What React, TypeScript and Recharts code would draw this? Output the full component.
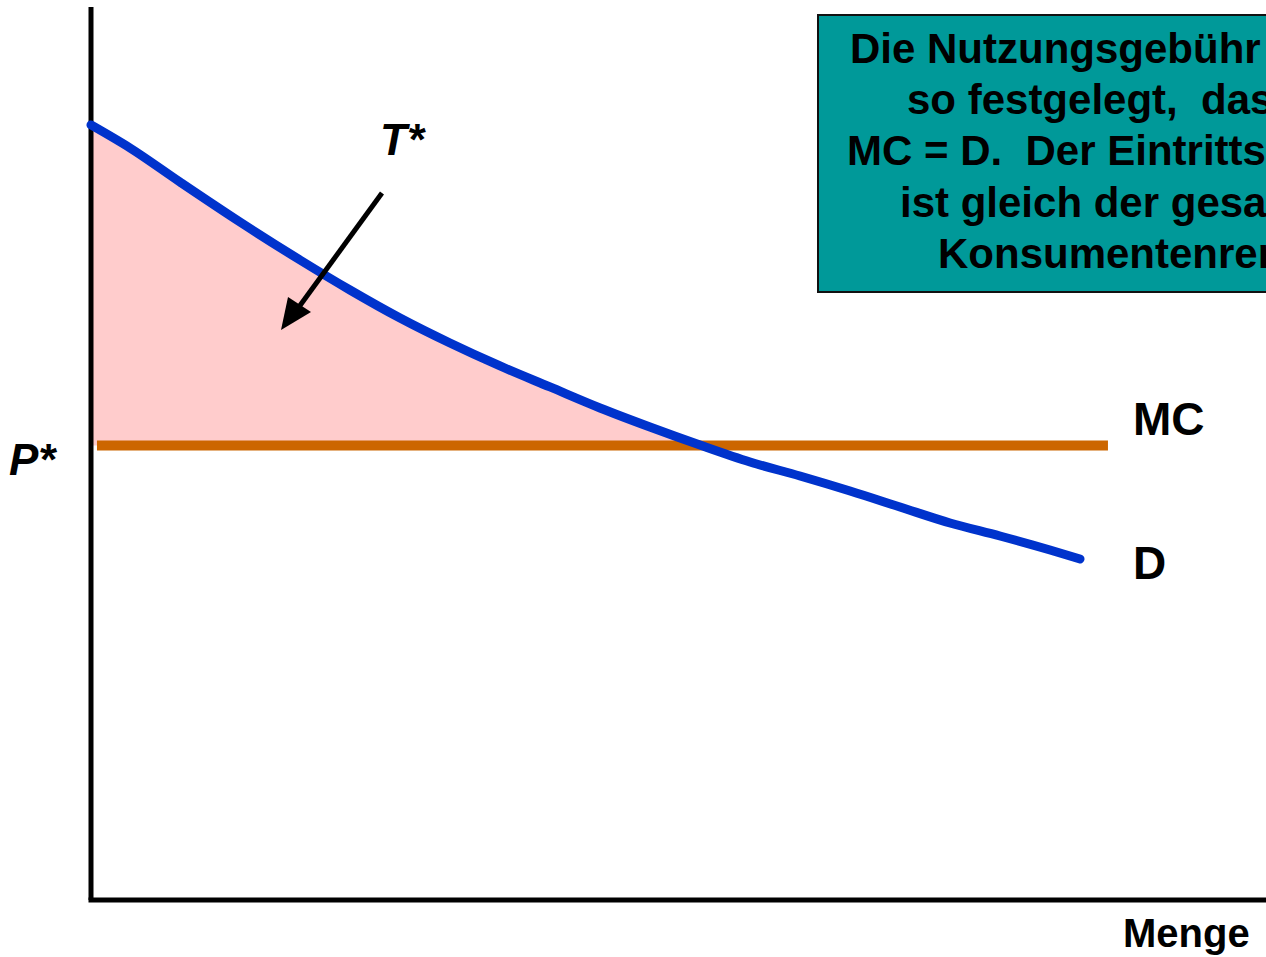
import { ComposedChart, Line, Area, XAxis, YAxis, ReferenceLine } from 'recharts'

// demand curve (quantity, price)
const demandQ = [0, 3.32, 7.57, 12.68, 17.79, 22.04, 26.3, 30.55, 34.81, 39.06, 43.32, 47.57, 51.83, 56.09, 60.34, 64.6, 68.85, 73.11, 77.36, 81.62, 84.17]
const demandP = [86.79, 84.21, 80.4, 75.92, 71.67, 68.31, 65.17, 62.37, 59.8, 57.45, 55.1, 52.97, 50.95, 49.05, 47.48, 45.8, 44.01, 42.22, 40.76, 39.19, 38.19]

// marginal cost line
const mcPrice = 50.9
const mcStart = 0.51
const mcEnd = 86.55

const boxLines = [
  'Die Nutzungsgebühr wird',
  'so festgelegt,  dass',
  'MC = D.  Der Eintrittspreis',
  'ist gleich der gesamten',
  'Konsumentenrente.',
]
const boxLineX = [850, 907, 847, 900, 938]

const W = 1266
const H = 957
const font = '"Liberation Sans", Arial, Helvetica, sans-serif'

const demand = demandQ.map((q, i) => ({ q, d: demandP[i] }))
const surplus = demand
  .filter((pt) => pt.d >= mcPrice)
  .map((pt) => ({ q: pt.q, band: [mcPrice, pt.d] }))
const mc = [
  { q: mcStart, mc: mcPrice },
  { q: mcEnd, mc: mcPrice },
]

export default function App() {
  return (
    <div style={{ position: 'absolute', left: 0, top: 0, width: W, height: H, background: '#fff' }}>
      <ComposedChart width={W} height={H} margin={{ top: 7, right: 0, bottom: 57, left: 91 }}>
        <XAxis type="number" dataKey="q" domain={[0, 100]} hide />
        <YAxis type="number" domain={[0, 100]} hide />
        <Area
          data={surplus}
          dataKey="band"
          type="monotone"
          stroke="none"
          fill="#FFCCCC"
          fillOpacity={1}
          isAnimationActive={false}
        />
        <ReferenceLine x={0} stroke="#000" strokeWidth={5} />
        <ReferenceLine y={0} stroke="#000" strokeWidth={5} strokeLinecap="square" />
        <Line
          data={mc}
          dataKey="mc"
          stroke="#CC6600"
          strokeWidth={10}
          dot={false}
          isAnimationActive={false}
        />
        <Line
          data={demand}
          dataKey="d"
          type="monotone"
          stroke="#0033CC"
          strokeWidth={9}
          strokeLinecap="round"
          dot={false}
          isAnimationActive={false}
        />
      </ComposedChart>
      <svg
        width={W}
        height={H}
        style={{ position: 'absolute', left: 0, top: 0, pointerEvents: 'none' }}
        fontFamily={font}
        fontWeight="bold"
      >
        <rect x={818} y={15} width={460} height={277} fill="#009999" stroke="#111" strokeWidth={2} />
        {boxLines.map((t, i) => (
          <text
            key={t}
            x={boxLineX[i]}
            y={63 + i * 51.2}
            fontSize={42}
            fill="#000"
            style={{ whiteSpace: 'pre' }}
          >
            {t}
          </text>
        ))}
        <line x1={382} y1={193} x2={296} y2={311} stroke="#000" strokeWidth={5} />
        <polygon points="281,330 288,297 311,312" fill="#000" />
        <text x={380} y={155} fontSize={44} fontStyle="italic">T*</text>
        <text x={9} y={475} fontSize={44} fontStyle="italic">P*</text>
        <text x={1133} y={435} fontSize={46}>MC</text>
        <text x={1133} y={579} fontSize={46}>D</text>
        <text x={1123} y={947} fontSize={40}>Menge</text>
      </svg>
    </div>
  )
}
